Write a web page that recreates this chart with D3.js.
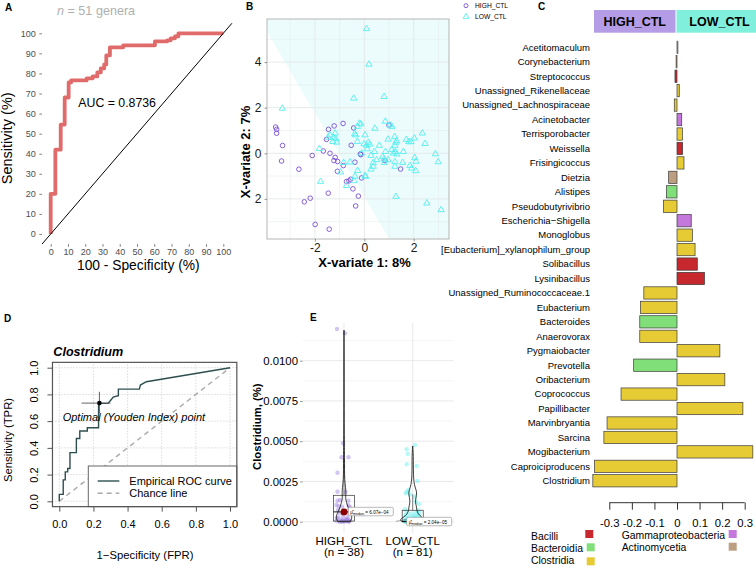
<!DOCTYPE html>
<html><head><meta charset="utf-8">
<script src="https://cdn.jsdelivr.net/npm/d3@7"></script>
<style>
body{margin:0;background:#fff}
svg{display:block}
text{font-family:"Liberation Sans",Arial,Helvetica,sans-serif}
</style>
</head><body>
<svg id="chart" width="756" height="567"></svg>
<script>
// ================= DATA =================
// Panel A: ROC curve (100 - specificity, sensitivity), step vertices
const rocA_fpr = [0,2.7,5.8,8.1,10.4,11.8,20.8,24.3,27,29,31,32.2,34.3,42,60.4,67.5,69.5,72,74,100];
const rocA_tpr = [0,20,42,54.5,68,75.5,76.5,77.5,78.5,80.5,82.5,84.5,89,93,94,96,96.5,97.5,98.5,100];
const ticksA = [0,10,20,30,40,50,60,70,80,90,100];
const aucLabel = "AUC = 0.8736";

// Panel B: PLS-DA sample plot
const hiX = [-3.59,-3.55,-3.55,-3.31,-3.35,-2.65,-2.11,-2.43,-2.19,-1.99,-1.42,-1.46,-1.66,-1.53,-1.45,-1.39,-1.22,-1.23,-1.18,-1.09,-1.08,-0.86,-0.85,-0.62,-0.55,-0.46,-0.38,-0.53,-0.43,-0.35,-0.24,-0.16,-0.11,-0.14,1.00,0.84,1.47,-0.72];
const hiY = [1.15,1.05,0.88,0.34,-0.34,-0.70,-0.10,-2.13,-1.97,-3.12,-3.33,-1.75,0.10,0.61,1.05,0.0,1.20,-0.32,-0.18,-0.79,-0.36,1.31,-0.54,-1.21,-1.14,-1.56,-0.39,0.35,1.11,-2.31,-1.88,-0.03,-1.08,-0.06,1.24,-0.32,-0.69,-1.24];
const loX = [0.09,0.19,-3.32,-0.43,0.80,0.85,1.04,1.12,-0.20,-0.14,-0.28,0.43,-1.47,-1.24,-1.18,-1.15,-1.28,-1.12,-0.39,-0.35,-0.28,0.03,-0.01,0.09,0.16,0.22,0.12,0.61,0.96,1.23,1.31,1.27,1.24,1.70,1.80,1.89,2.03,2.35,2.46,-1.82,0.41,0.27,0.86,1.11,1.26,1.32,1.18,0.80,0.74,0.96,0.81,1.24,1.55,2.04,2.09,2.88,2.99,1.85,1.92,2.08,1.24,1.28,2.53,3.11,0.36,0.27,-0.27,0.03,0.05,-0.42,-0.38,-0.72,-1.77,-0.96,-0.84,-0.58,0.36,0.50,-0.11,-1.39,1.58];
const loY = [5.46,3.90,1.97,2.41,2.48,1.40,1.24,1.17,1.31,1.28,1.17,1.09,0.70,0.69,0.88,0.63,0.51,0.48,0.85,0.80,0.51,0.80,0.41,0.34,0.47,0.39,0.19,0.34,0.61,0.73,0.54,0.47,0.34,0.60,0.50,0.50,0.66,0.88,0.42,0.20,0.07,-0.10,0.07,0.16,0.07,-0.04,0.0,-0.26,-0.15,-0.29,-0.41,-0.38,-0.41,-0.20,-0.36,-0.03,-0.38,-0.54,-0.66,-0.77,-0.58,-1.90,-2.19,-2.48,-0.58,-0.70,-0.76,-0.98,-1.02,-1.21,-1.02,-1.42,-1.24,-0.83,-0.41,-0.39,-0.42,-0.29,0.0,0.80,0.07];
const bBoundary = [[-3.94,5.33],[1.01,-3.76]]; // prediction background boundary
const ticksBx = [-2,0,2];
const ticksBy = [-2,0,2,4];
const groupsB = ["HIGH_CTL","LOW_CTL"];

// Panel C: loadings
const genera = ["Acetitomaculum","Corynebacterium","Streptococcus","Unassigned_Rikenellaceae","Unassigned_Lachnospiraceae","Acinetobacter","Terrisporobacter","Weissella","Frisingicoccus","Dietzia","Alistipes","Pseudobutyrivibrio","Escherichia\u2212Shigella","Monoglobus","[Eubacterium]_xylanophilum_group","Solibacillus","Lysinibacillus","Unassigned_Ruminococcaceae.1","Eubacterium","Bacteroides","Anaerovorax","Pygmaiobacter","Prevotella","Oribacterium","Coprococcus","Papillibacter","Marvinbryantia","Sarcina","Mogibacterium","Caproiciproducens","Clostridium"];
const loadings = [0.004,-0.004,-0.009,0.01,-0.012,0.021,0.024,0.025,0.031,-0.037,-0.047,-0.06,0.063,0.068,0.08,0.09,0.122,-0.147,-0.162,-0.165,-0.165,0.19,-0.192,0.212,-0.248,0.292,-0.31,-0.324,0.336,-0.366,-0.373];
const classes = ["Clostridia","Actinomycetia","Bacilli","Clostridia","Clostridia","Gammaproteobacteria","Clostridia","Bacilli","Clostridia","Actinomycetia","Bacteroidia","Clostridia","Gammaproteobacteria","Clostridia","Clostridia","Bacilli","Bacilli","Clostridia","Clostridia","Bacteroidia","Clostridia","Clostridia","Bacteroidia","Clostridia","Clostridia","Clostridia","Clostridia","Clostridia","Clostridia","Clostridia","Clostridia"];
const classNames = ["Bacilli","Bacteroidia","Clostridia","Gammaproteobacteria","Actinomycetia"];
const classColors = ["#c6282e","#80df78","#e6cb35","#c478dc","#bb9f80"];
const ticksC = [-0.3,-0.2,-0.1,0,0.1,0.2,0.3];

// Panel D: ROC curve for Clostridium
const rocD_fpr = [0,0,0.023,0.023,0.035,0.035,0.049,0.049,0.0625,0.0625,0.10,0.10,0.12,0.12,0.164,0.164,0.23,0.23,0.285,0.30,0.316,0.346,0.346,0.469,0.475,0.51,1];
const rocD_tpr = [0,0.052,0.052,0.16,0.16,0.22,0.22,0.245,0.245,0.364,0.364,0.47,0.47,0.526,0.526,0.55,0.55,0.733,0.733,0.755,0.78,0.79,0.84,0.84,0.87,0.895,1];
const optimalD = {fpr:0.235, tpr:0.735, fprLo:0.13, fprHi:0.30, tprLo:0.66, tprHi:0.82};
const ticksD = [0,0.2,0.4,0.6,0.8,1.0];

// Panel E: Clostridium abundance
const groupsE = ["HIGH_CTL","LOW_CTL"];
const nE = [38,81];
const highVals = [0.01197,0.0117,0.00487,0.0040,0.0040,0.00304,0.00186,0.00185,0.0013,0.0013,0.00135,0.00104,0.00102,0.00097,0.00093,0.00073,0.00068,0.00052,0.0005,0.00027,0.00027,0.00021,0.00014,0.0001,0.00006,0.00006,0.00004,0.00002,0.00002,0.00001,0,0,0.00008,0.00012,0.00003,0.00015,0.00035,0.0009];
const highJitter = [-7,1,-1,-2.5,4.5,-6.5,-6.5,1.5,-6.5,4.5,-4,-7.5,4.5,-5.5,-2,-6,3.5,-4,4.5,-6,3.5,-7,3.5,-1,2.5,-7.5,-2.5,1,5,4.5,-4.5,-2,6,-3,0,2,-1,6];
const lowVals = [0.00476,0.0045,0.00421,0.00357,0.00346,0.00253,0.00197,0.00186,0.00176,0.0017,0.00155,0.00124,0.0011,0.00077,0.00073,
 0.00062,0.00058,0.00054,0.0005,0.00047,0.00044,0.0004,0.00037,0.00034,0.00031,
 0.00028,0.00026,0.00024,0.00022,0.0002,0.00018,0.00016,0.00015,0.00014,0.00012,
 0.00011,0.0001,0.00009,0.00008,0.00008,0.00007,0.00006,0.00006,0.00005,0.00005,
 0.00004,0.00004,0.00004,0.00003,0.00003,0.00003,0.00003,0.00002,0.00002,0.00002,
 0.00002,0.00002,0.00002,0.00002,0.00002,0.00001,0.00001,0.00001,0.00001,0.00001,
 0.00001,0.00001,0.00001,0.00001,0,0,0,0,0,0,0,0,0,0,0,0];
const lowJitter = [2.3,-6,-5,-6,4,4.7,-4.3,-6,-7,-2.7,2.3,3.3,6.3,-7.7,5.7,
 -6,3,7,-2,5,-7,1,6,-4,2,-8,4,-1,7,-5,3,-3,8,0,-6,5,-2,6,-7,2,-4,7,-1,4,-8,
 1,-5,6,-3,3,-6,8,-2,5,0,-7,2,-4,7,-1,4,-6,1,6,-3,3,-8,5,-2,7,-5,0,4,-7,2,-1,6,-4,8,-3,1];
const highViolinY = [0,0.0002,0.0004,0.0006,0.0009,0.0012,0.0015,0.0018,0.0021,0.0026,0.0032,0.0040,0.0048,0.006,0.008,0.0100,0.0119];
const highViolinD = [0.75,1.0,0.95,0.75,0.5,0.3,0.18,0.25,0.2,0.08,0.06,0.07,0.05,0.03,0.02,0.02,0];
const lowViolinY = [0,0.0001,0.0002,0.0004,0.0006,0.0008,0.0010,0.0012,0.0015,0.0018,0.0020,0.0023,0.0027,0.0032,0.0038,0.0043,0.0047];
const lowViolinD = [0.8,1.0,0.85,0.5,0.35,0.3,0.28,0.2,0.25,0.32,0.25,0.12,0.07,0.05,0.05,0.04,0];
const boxE = [{q1:0.00004,med:0.00061,q3:0.00164,lo:0,hi:0.0040},{q1:0,med:0.00002,q3:0.00071,lo:0,hi:0.0017}];
const medianE = [0.000607, 0.0000204];
const medianLabels = ["6.07e\u221204","2.04e\u221205"];
const ticksE = [0,0.0025,0.005,0.0075,0.01];
const minorE = [0.00125,0.00375,0.00625,0.00875,0.01125];

// ================= DRAWING =================
const svg = d3.select("#chart");
function cleanAxis(g){ g.select(".domain").remove(); }
function panelLabel(t,x,y){ svg.append("text").attr("x",x).attr("y",y).attr("font-size",10).attr("font-weight","bold").text(t); }

// ---------- Panel A ----------
{
  const g = svg.append("g");
  const x = d3.scaleLinear().domain([0,100]).range([50.7,223.3]);
  const y = d3.scaleLinear().domain([0,100]).range([234,33.3]);
  const ya = g.append("g").attr("transform",`translate(${x(-5)},0)`)
    .call(d3.axisLeft(y).tickValues(ticksA).tickSize(2.75).tickPadding(3.5));
  cleanAxis(ya);
  const xa = g.append("g").attr("transform",`translate(0,${y(-5)})`)
    .call(d3.axisBottom(x).tickValues(ticksA).tickSize(2.75).tickPadding(1.5));
  cleanAxis(xa);
  [ya,xa].forEach(a=>{a.selectAll("line").attr("stroke","#333").attr("stroke-width",0.6);
    a.selectAll("text").attr("font-size",9).attr("fill","#4d4d4d").attr("font-family","Liberation Sans, Arial");});
  g.append("path").attr("fill","none").attr("stroke","#e06b6b").attr("stroke-width",3.8)
    .attr("stroke-linejoin","round")
    .attr("d", d3.line().curve(d3.curveStepBefore).x(d=>x(d[0])).y(d=>y(d[1]))(rocA_fpr.map((f,i)=>[f,rocA_tpr[i]])));
  g.append("line").attr("x1",x(-5)).attr("y1",y(-5)).attr("x2",x(105)).attr("y2",y(105))
    .attr("stroke","#000").attr("stroke-width",1);
  g.append("text").attr("x",x(16)).attr("y",106.5).attr("font-size",12.3).text(aucLabel);
  const sub = g.append("text").attr("x",57).attr("y",14.5).attr("font-size",12.6).attr("fill","#b0b0b0");
  sub.append("tspan").attr("font-style","italic").text("n");
  sub.append("tspan").text(" = 51 genera");
  g.append("text").attr("x",138.3).attr("y",269.5).attr("text-anchor","middle").attr("font-size",13.8).text("100 - Specificity (%)");
  g.append("text").attr("transform","translate(12,138.3) rotate(-90)").attr("text-anchor","middle").attr("font-size",14.5).text("Sensitivity (%)");
  panelLabel("A",5,11);
}

// ---------- Panel B ----------
{
  const g = svg.append("g");
  const x = d3.scaleLinear().domain([-3.94,3.43]).range([267,449]);
  const y = d3.scaleLinear().domain([-3.76,5.89]).range([239,19]);
  const [x0,x1] = x.domain(), [y0,y1] = y.domain();
  g.append("rect").attr("x",x(x0)).attr("y",y(y1)).attr("width",x(x1)-x(x0)).attr("height",y(y0)-y(y1)).attr("fill","#fff");
  const poly = [[x0,y1],[x1,y1],[x1,y0],bBoundary[1],bBoundary[0]];
  g.append("path").attr("d","M"+poly.map(p=>[x(p[0]),y(p[1])].join(",")).join("L")+"Z").attr("fill","#ecfcfc");
  // grid
  const gx = d3.range(-3,4,1), gy = d3.range(-3,6,1);
  g.selectAll(".gvx").data(gx).join("line").attr("x1",d=>x(d)).attr("x2",d=>x(d)).attr("y1",y(y0)).attr("y2",y(y1))
    .attr("stroke","#e3e8e8").attr("stroke-width",d=>ticksBx.includes(d)?0.9:0.5);
  g.selectAll(".gvy").data(gy).join("line").attr("y1",d=>y(d)).attr("y2",d=>y(d)).attr("x1",x(x0)).attr("x2",x(x1))
    .attr("stroke","#e3e8e8").attr("stroke-width",d=>ticksBy.includes(d)?0.9:0.5);
  g.append("rect").attr("x",x(x0)).attr("y",y(y1)).attr("width",x(x1)-x(x0)).attr("height",y(y0)-y(y1))
    .attr("fill","none").attr("stroke","#b5b5b5").attr("stroke-width",1);
  // points
  g.selectAll(".hi").data(hiX.map((v,i)=>[v,hiY[i]])).join("circle")
    .attr("cx",d=>x(d[0])).attr("cy",d=>y(d[1])).attr("r",2.3)
    .attr("fill","none").attr("stroke","#7a50d2").attr("stroke-width",0.9);
  const tri = d3.symbol().type(d3.symbolTriangle).size(17);
  g.selectAll(".lo").data(loX.map((v,i)=>[v,loY[i]])).join("path")
    .attr("d",tri).attr("transform",d=>`translate(${x(d[0])},${y(d[1])})`)
    .attr("fill","none").attr("stroke","#55eef0").attr("stroke-width",0.9);
  // axes
  const xa = g.append("g").attr("transform",`translate(0,${y(y0)})`)
    .call(d3.axisBottom(x).tickValues(ticksBx).tickSize(2.5).tickPadding(2).tickFormat(d=>String(d)));
  const ya = g.append("g").attr("transform",`translate(${x(x0)},0)`)
    .call(d3.axisLeft(y).tickValues(ticksBy).tickSize(2.5).tickPadding(3).tickFormat(d=>String(Math.abs(d))));
  [xa,ya].forEach(a=>{cleanAxis(a); a.selectAll("line").attr("stroke","#333").attr("stroke-width",0.5);
    a.selectAll("text").attr("font-size",12).attr("fill","#1a1a1a").attr("font-family","Liberation Sans, Arial");});
  g.append("text").attr("x",364.5).attr("y",267).attr("text-anchor","middle").attr("font-size",13).attr("font-weight","bold").text("X-variate 1: 8%");
  g.append("text").attr("transform","translate(250,152) rotate(-90)").attr("text-anchor","middle").attr("font-size",13).attr("font-weight","bold").text("X-variate 2: 7%");
  // legend
  g.append("circle").attr("cx",466).attr("cy",5.7).attr("r",2).attr("fill","none").attr("stroke","#7a50d2").attr("stroke-width",0.9);
  g.append("path").attr("d",d3.symbol().type(d3.symbolTriangle).size(14)).attr("transform","translate(466,16.7)")
    .attr("fill","none").attr("stroke","#55eef0").attr("stroke-width",0.9);
  g.append("text").attr("x",475).attr("y",8).attr("font-size",6.7).text(groupsB[0]);
  g.append("text").attr("x",475).attr("y",19).attr("font-size",6.7).text(groupsB[1]);
  panelLabel("B",246,10);
}

// ---------- Panel C ----------
{
  const g = svg.append("g");
  const x = d3.scaleLinear().domain([-0.3,0.3]).range([609.3,744.7]);
  const y = d3.scaleBand().domain(genera).range([40.1,488]).paddingInner(0.15).paddingOuter(0.075);
  const col = d3.scaleOrdinal().domain(classNames).range(classColors);
  // header
  g.append("rect").attr("x",594).attr("y",10).attr("width",81.5).attr("height",22.7).attr("fill","#b59ce6");
  g.append("rect").attr("x",676.5).attr("y",10).attr("width",80).attr("height",22.7).attr("fill","#80efdc");
  g.append("text").attr("x",634.7).attr("y",26.3).attr("text-anchor","middle").attr("font-size",12.5).attr("font-weight","bold").text(groupsB[0]);
  g.append("text").attr("x",719.5).attr("y",26.3).attr("text-anchor","middle").attr("font-size",12.5).attr("font-weight","bold").text(groupsB[1]);
  // bars
  g.selectAll(".bar").data(genera).join("rect")
    .attr("x",(d,i)=>x(Math.min(0,loadings[i]))).attr("y",d=>y(d))
    .attr("width",(d,i)=>Math.abs(x(loadings[i])-x(0))).attr("height",y.bandwidth())
    .attr("fill",(d,i)=>col(classes[i])).attr("stroke","#3a3a3a").attr("stroke-width",0.7);
  g.selectAll(".lab").data(genera).join("text")
    .attr("x",590).attr("y",d=>y(d)+y.bandwidth()/2).attr("dy","0.35em")
    .attr("text-anchor","end").attr("font-size",9.5).text(d=>d);
  // axis
  const xa = g.append("g").attr("transform","translate(0,502.7)")
    .call(d3.axisBottom(x).tickValues(ticksC).tickSize(7).tickPadding(9).tickFormat(d=>d===0?"0":d.toFixed(1)));
  xa.select(".domain").attr("stroke","#333").attr("d",`M${x(-0.3)},0H${x(0.3)}`);
  xa.selectAll("line").attr("stroke","#333");
  xa.selectAll("text").attr("font-size",11.3).attr("fill","#000").attr("font-family","Liberation Sans, Arial");
  // legend
  const legPos = [[531,539.5,585.3,530],[531,551.8,586.7,543.3],[531,564.3,586.7,557.3],[621.7,539,728.7,530],[621.7,551.3,728.7,542.7]];
  classNames.forEach((c,i)=>{
    const p = legPos[i];
    g.append("text").attr("x",p[0]).attr("y",p[1]).attr("font-size",10.4).text(c);
    g.append("rect").attr("x",p[2]).attr("y",p[3]).attr("width",8).attr("height",8).attr("fill",col(c));
  });
  panelLabel("C",538,10);
}

// ---------- Panel D ----------
{
  const g = svg.append("g");
  const x = d3.scaleLinear().domain([0,1]).range([59.3,230]);
  const y = d3.scaleLinear().domain([0,1]).range([501.3,367.7]);
  const bx0 = x(-0.04), bx1 = x(1.04), by0 = y(-0.04), by1 = y(1.04);
  // grid
  g.selectAll(".gx").data(ticksD).join("line").attr("x1",d=>x(d)).attr("x2",d=>x(d)).attr("y1",by0).attr("y2",by1)
    .attr("stroke","#bdbdbd").attr("stroke-width",0.8).attr("stroke-dasharray","1,2");
  g.selectAll(".gy").data(ticksD).join("line").attr("y1",d=>y(d)).attr("y2",d=>y(d)).attr("x1",bx0).attr("x2",bx1)
    .attr("stroke","#bdbdbd").attr("stroke-width",0.8).attr("stroke-dasharray","1,2");
  // chance line
  g.append("line").attr("x1",x(0)).attr("y1",y(0)).attr("x2",x(1)).attr("y2",y(1))
    .attr("stroke","#aaa").attr("stroke-width",1.4).attr("stroke-dasharray","5,4");
  // ROC
  g.append("path").attr("fill","none").attr("stroke","#2f4f4f").attr("stroke-width",1.4)
    .attr("d",d3.line().x(d=>x(d[0])).y(d=>y(d[1]))(rocD_fpr.map((f,i)=>[f,rocD_tpr[i]])));
  // optimal point
  g.append("line").attr("x1",x(optimalD.fprLo)).attr("x2",x(optimalD.fprHi)).attr("y1",y(optimalD.tpr)).attr("y2",y(optimalD.tpr))
    .attr("stroke","#555").attr("stroke-width",0.9);
  g.append("line").attr("x1",x(optimalD.fpr)).attr("x2",x(optimalD.fpr)).attr("y1",y(optimalD.tprLo)).attr("y2",y(optimalD.tprHi))
    .attr("stroke","#555").attr("stroke-width",0.9);
  g.append("circle").attr("cx",x(optimalD.fpr)).attr("cy",y(optimalD.tpr)).attr("r",2.3).attr("fill","#000");
  g.append("text").attr("x",62.7).attr("y",421).attr("font-size",11).attr("font-style","italic").text("Optimal (Youden Index) point");
  // legend
  g.append("rect").attr("x",88.3).attr("y",466).attr("width",bx1-88.3).attr("height",by0-466)
    .attr("fill","#fff").attr("stroke","#666").attr("stroke-width",1);
  g.append("line").attr("x1",97.7).attr("x2",119.3).attr("y1",481).attr("y2",481).attr("stroke","#2f4f4f").attr("stroke-width",1.4);
  g.append("line").attr("x1",97.7).attr("x2",119.3).attr("y1",493.3).attr("y2",493.3).attr("stroke","#aaa").attr("stroke-width",1.4).attr("stroke-dasharray","5,4");
  g.append("text").attr("x",129.3).attr("y",485).attr("font-size",11).text("Empirical ROC curve");
  g.append("text").attr("x",129.3).attr("y",497.3).attr("font-size",11).text("Chance line");
  // box
  g.append("rect").attr("x",bx0).attr("y",by1).attr("width",bx1-bx0).attr("height",by0-by1)
    .attr("fill","none").attr("stroke","#555").attr("stroke-width",1.2);
  // axes
  const xa = g.append("g").attr("transform",`translate(0,${by0})`)
    .call(d3.axisBottom(x).tickValues(ticksD).tickSize(5).tickPadding(9).tickFormat(d3.format(".1f")));
  const ya = g.append("g").attr("transform",`translate(${bx0},0)`)
    .call(d3.axisLeft(y).tickValues(ticksD).tickSize(5).tickFormat(d3.format(".1f")));
  [xa,ya].forEach(a=>{cleanAxis(a); a.selectAll("line").attr("stroke","#555");
    a.selectAll("text").attr("font-size",11).attr("fill","#000").attr("font-family","Liberation Sans, Arial");});
  ya.selectAll("text").attr("x",null).attr("dy",null).attr("text-anchor","middle")
    .attr("transform","translate(-14,0) rotate(-90)");
  g.append("text").attr("x",53.3).attr("y",355.5).attr("font-size",12.6).attr("font-weight","bold").attr("font-style","italic").text("Clostridium");
  g.append("text").attr("x",145).attr("y",559).attr("text-anchor","middle").attr("font-size",11.3).text("1\u2212Specificity (FPR)");
  g.append("text").attr("transform","translate(12,440) rotate(-90)").attr("text-anchor","middle").attr("font-size",11.3).text("Sensitivity (TPR)");
  panelLabel("D",4,322);
}

// ---------- Panel E ----------
{
  const g = svg.append("g");
  const x = d3.scalePoint().domain(groupsE).range([344,412.7]);
  const step = x.step();
  const y = d3.scaleLinear().domain([0,0.01]).range([521.7,360.7]);
  const px0 = 344 - 0.6*step, px1 = 412.7 + 0.6*step, py0 = y(-0.0007), py1 = y(0.01234);
  // grid
  g.selectAll(".mg").data(minorE).join("line").attr("x1",px0).attr("x2",px1).attr("y1",d=>y(d)).attr("y2",d=>y(d))
    .attr("stroke","#f0f0f0").attr("stroke-width",0.6);
  g.selectAll(".Mg").data(ticksE).join("line").attr("x1",px0).attr("x2",px1).attr("y1",d=>y(d)).attr("y2",d=>y(d))
    .attr("stroke","#e6e6e6").attr("stroke-width",0.9);
  g.selectAll(".vg").data(groupsE).join("line").attr("x1",d=>x(d)).attr("x2",d=>x(d)).attr("y1",py0).attr("y2",py1)
    .attr("stroke","#e6e6e6").attr("stroke-width",0.9);
  // points
  g.selectAll(".ph").data(highVals).join("circle").attr("cx",(d,i)=>x(groupsE[0])+highJitter[i]*step/68.7).attr("cy",d=>y(d))
    .attr("r",2.2).attr("fill","#9b7fe0").attr("fill-opacity",0.45);
  g.selectAll(".pl").data(lowVals).join("circle").attr("cx",(d,i)=>x(groupsE[1])+lowJitter[i]*step/68.7).attr("cy",d=>y(d))
    .attr("r",2.2).attr("fill","#5ef0f0").attr("fill-opacity",0.45);
  // boxes
  boxE.forEach((b,i)=>{
    const cx = x(groupsE[i]), hw = 0.153*step;
    g.append("line").attr("x1",cx).attr("x2",cx).attr("y1",y(b.q3)).attr("y2",y(b.hi)).attr("stroke","#333").attr("stroke-width",0.6);
    g.append("rect").attr("x",cx-hw).attr("y",y(b.q3)).attr("width",2*hw).attr("height",y(b.q1)-y(b.q3))
      .attr("fill","none").attr("stroke","#333").attr("stroke-width",0.7);
    g.append("line").attr("x1",cx-hw).attr("x2",cx+hw).attr("y1",y(b.med)).attr("y2",y(b.med)).attr("stroke","#222").attr("stroke-width",1);
  });
  // violins
  const vs = [[highViolinY,highViolinD,8],[lowViolinY,lowViolinD,13]];
  vs.forEach((v,i)=>{
    const cx = x(groupsE[i]);
    const pts = v[0].map((yy,j)=>[yy,v[1][j]]);
    const area = d3.area().curve(d3.curveBasis).y(d=>y(d[0])).x0(d=>cx-d[1]*v[2]).x1(d=>cx+d[1]*v[2]);
    g.append("path").attr("d",area(pts)+"Z").attr("fill","none").attr("stroke","#111").attr("stroke-width",0.8);
  });
  // median point
  g.append("circle").attr("cx",x(groupsE[0])).attr("cy",y(medianE[0])).attr("r",3.4).attr("fill","#8b0000");
  // labels
  const labs = [[348.3,507.3],[406.7,517.3]];
  g.append("line").attr("x1",396).attr("y1",521.3).attr("x2",406.7).attr("y2",519.5).attr("stroke","#555").attr("stroke-width",0.5);
  labs.forEach((p,i)=>{
    g.append("rect").attr("x",p[0]).attr("y",p[1]).attr("width",45).attr("height",8.5).attr("rx",1.5)
      .attr("fill","#fff").attr("stroke","#888").attr("stroke-width",0.6);
    const t = g.append("text").attr("x",p[0]+2).attr("y",p[1]+6.3).attr("font-size",4.6);
    t.append("tspan").text("\u03bc\u0302");
    t.append("tspan").attr("font-size",3.4).attr("dy",1).text("median");
    t.append("tspan").attr("dy",-1).text(" = " + medianLabels[i]);
  });
  // axes
  const ya = g.append("g").attr("transform",`translate(${px0},0)`)
    .call(d3.axisLeft(y).tickValues(ticksE).tickSize(2.75).tickPadding(2).tickFormat(d3.format(".4f")));
  cleanAxis(ya);
  ya.selectAll("line").attr("stroke","#333").attr("stroke-width",0.5);
  ya.selectAll("text").attr("font-size",11.4).attr("fill","#000").attr("font-family","Liberation Sans, Arial");
  groupsE.forEach((gname,i)=>{
    g.append("text").attr("x",x(gname)).attr("y",544.5).attr("text-anchor","middle").attr("font-size",11.5).text(gname);
    g.append("text").attr("x",x(gname)).attr("y",556).attr("text-anchor","middle").attr("font-size",11.5).text(`(n = ${nE[i]})`);
  });
  g.append("text").attr("transform","translate(261,426.7) rotate(-90)").attr("text-anchor","middle").attr("font-size",11.3).attr("font-weight","bold").text("Clostridium, (%)");
  panelLabel("E",310,321);
}
</script>
</body></html>
